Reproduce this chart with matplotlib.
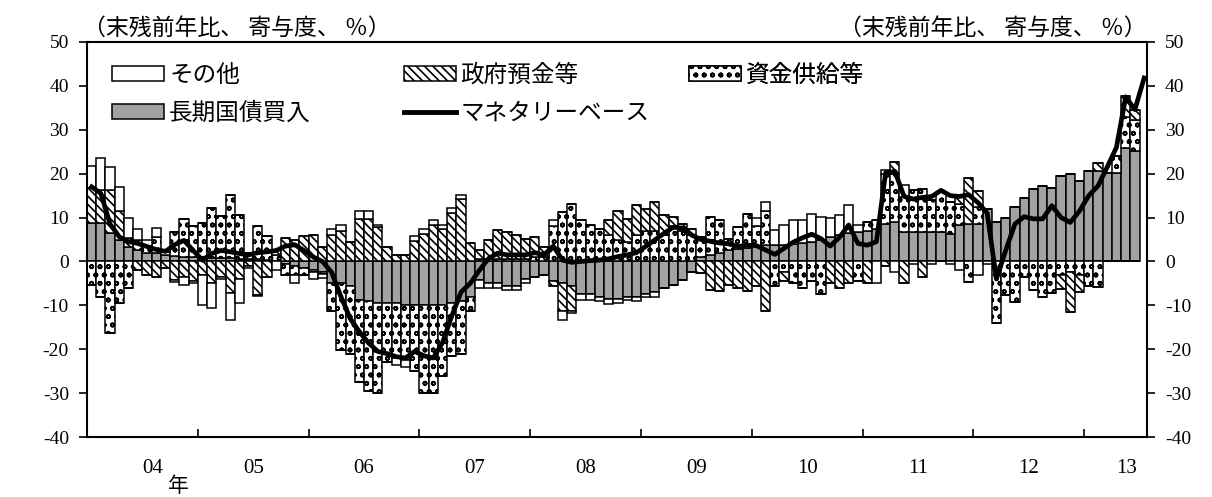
import numpy as np
import matplotlib
matplotlib.use("Agg")
import matplotlib.pyplot as plt
from matplotlib.patches import Patch
from matplotlib.lines import Line2D
import matplotlib.transforms as mtransforms

plt.rcParams['font.family'] = ['Noto Sans CJK JP', 'DejaVu Sans']
plt.rcParams['hatch.color'] = 'black'
plt.rcParams['hatch.linewidth'] = 1.2
plt.rcParams['axes.unicode_minus'] = False

# monthly contributions, 2004/01 - 2013/06 (% pts, y/y of end-month balance)
jgb = [8.7, 8.7, 6.5, 4.9, 3.4, 2.5, 2.0, 2.0, 1.5, 1.2, 1.0, 1.0,
       1.0, 0.8, 0.8, 0.8, 0.6, 0.5, 0.5, 0.3, 0.0, -0.5, -1.0, -1.5,
       -2.0, -2.5, -5.0, -5.0, -5.7, -8.8, -9.0, -9.5, -9.5, -9.5, -10.0, -10.0,
       -10.0, -10.0, -10.0, -9.5, -9.0, -8.0, -4.2, -5.0, -5.0, -5.5, -5.5, -4.0,
       -3.5, -3.0, -4.5, -5.0, -5.5, -7.5, -7.5, -8.0, -8.5, -8.5, -8.0, -8.0,
       -7.5, -7.0, -6.0, -5.3, -4.2, -2.3, 1.0, 1.5, 2.0, 2.5, 2.8, 3.0,
       3.5, 3.7, 3.7, 3.7, 4.0, 4.2, 4.5, 5.0, 5.5, 6.0, 6.5, 6.8,
       7.0, 7.5, 8.5, 8.9, 6.6, 6.6, 6.6, 6.6, 6.6, 6.2, 8.2, 8.5,
       8.5, 11.9, 8.9, 10.0, 12.3, 14.4, 16.5, 17.2, 16.8, 19.5, 19.9, 18.4,
       20.6, 20.6, 20.2, 20.2, 25.9, 25.2]
supply = [-5.3, -8.0, -16.3, -9.5, -6.0, 2.5, 1.5, 3.5, 0.7, 5.4, 8.6, 7.1,
          7.7, 11.3, 9.5, 14.4, 10.0, 1.5, 7.5, 5.4, 1.5, -2.5, -2.0, -1.5,
          -0.5, -0.3, -6.4, -15.2, -15.3, -18.6, -20.6, -20.5, -13.3, -12.5, -12.5, -15.0,
          -20.0, -20.0, -16.0, -12.1, -12.0, -3.4, 0.5, 0.5, 0.5, 0.5, 0.5, 0.5,
          1.0, 1.0, 8.0, 11.3, 13.2, 9.4, 8.3, 7.5, 6.0, 5.0, 4.5, 6.0,
          7.0, 7.0, 6.0, 8.0, 7.0, 6.0, 4.6, 8.6, 7.4, 2.7, 5.1, 7.9,
          4.5, 7.9, -5.5, -2.5, -5.0, -6.0, -4.5, -7.5, 0.0, 0.0, 0.0, -4.5,
          2.0, 1.9, 11.5, 11.1, 8.0, 9.7, 10.0, 7.4, 9.3, 7.4, 5.0, -4.7,
          4.0, 0.0, -14.1, -7.7, -9.2, -3.5, -6.6, -8.1, -7.3, -3.0, -2.5, -3.0,
          -5.5, -5.8, 0.0, 3.8, 7.1, 7.1]
govt = [8.0, 7.6, 9.8, 6.5, 2.0, -2.0, -3.0, -3.5, -1.5, -4.2, -3.5, -4.5,
        -3.0, -5.0, -3.5, -7.2, -4.0, -1.0, -7.6, -3.5, 1.0, 5.3, 5.0, 5.7,
        6.0, 3.4, 6.0, 7.0, 4.5, 9.6, 9.6, 7.8, 3.4, 1.5, 1.5, 4.7,
        6.3, 8.4, 7.3, 11.1, 14.2, 4.1, 2.1, 4.4, 6.7, 6.3, 5.5, 4.7,
        4.6, 2.3, -1.2, -6.3, -5.8, 0.0, 0.0, 0.0, 3.4, 6.6, 5.2, 6.8,
        5.0, 6.5, 4.5, 2.1, 1.6, 1.5, -2.7, -6.5, -6.8, -5.3, -6.0, -6.8,
        -5.7, -11.3, 0.0, -2.0, 0.0, 0.0, 0.0, 0.0, -5.0, -6.0, -5.0, 0.0,
        -5.0, 0.0, -1.0, 2.7, -5.0, 0.0, -3.5, 0.0, 0.0, 0.0, 1.8, 10.4,
        3.5, 0.0, 0.0, 0.0, 0.0, 0.0, 0.0, 0.0, 0.0, -3.2, -9.0, -4.0,
        0.0, 1.9, 0.0, 0.0, 4.6, 2.3]
other = [5.1, 7.2, 5.3, 5.6, 4.5, 2.4, 1.5, 2.1, 0.5, -0.5, -1.8, -0.5,
         -6.9, -5.6, -0.5, -6.1, -5.5, -0.5, -0.3, 0.0, -2.0, 0.0, -2.0, 0.0,
         -1.5, -1.0, 1.3, 1.3, 0.0, 2.0, 2.0, 0.5, 0.0, -1.5, -1.5, 1.0,
         1.0, 1.0, 1.0, 1.0, 1.0, 0.0, -1.9, -1.0, -1.0, -1.1, -1.0, -1.0,
         0.0, 0.0, 1.4, -2.0, -0.5, -1.2, -1.2, -1.0, -1.3, -0.9, -0.7, -1.0,
         -0.5, -1.0, 0.0, 0.0, 0.0, 0.0, 0.0, 0.0, 0.0, 0.0, 0.0, 0.0,
         1.8, 2.0, 3.4, 4.6, 5.4, 5.2, 6.4, 5.2, 4.3, 4.6, 6.3, 1.5,
         0.0, -5.0, 0.9, -2.4, 2.8, -0.5, 0.0, -0.5, 0.0, -0.5, -2.0, 0.0,
         -3.0, -0.5, 0.0, 0.0, 0.0, 0.0, 0.0, 0.0, 0.0, 0.0, 0.0, 0.0,
         0.0, 0.0, 0.0, 0.0, 0.0, 0.0]
# monetary base, 2004/01 - 2013/07
base = [17.0, 15.5, 8.5, 5.6, 4.5, 4.1, 3.4, 2.7, 2.3, 3.8, 4.8, 2.5,
        0.3, 1.8, 2.5, 2.2, 1.8, 1.5, 2.0, 2.2, 2.5, 3.5, 3.8, 2.5,
        1.0, 0.0, -2.5, -8.0, -13.0, -16.0, -18.6, -20.5, -21.0, -21.7, -22.0, -20.5,
        -21.5, -22.0, -18.5, -12.5, -7.0, -5.0, -2.0, 0.7, 1.9, 1.5, 1.5, 1.5,
        2.0, 1.5, 3.5, 0.3, -0.2, 0.0, 0.2, 0.3, 0.6, 1.1, 1.5, 2.0,
        3.4, 4.9, 6.4, 7.8, 7.6, 6.0, 5.0, 4.6, 4.2, 4.0, 3.4, 3.7,
        3.6, 2.6, 1.6, 3.0, 4.4, 5.4, 6.2, 5.2, 3.5, 5.5, 8.3, 4.1,
        3.7, 4.5, 20.2, 20.5, 14.8, 14.2, 14.6, 14.8, 16.2, 15.0, 14.8, 15.2,
        13.4, 11.0, -4.0, 2.5, 8.5, 10.2, 9.7, 9.7, 12.7, 10.0, 8.9, 11.5,
        15.0, 17.2, 21.5, 26.0, 37.5, 34.6, 41.8]

year_labels = ['04', '05', '06', '07', '08', '09', '10', '11', '12', '13']
names = ['長期国債買入', '資金供給等', '政府預金等', 'その他', 'マネタリーベース']
unit = '（末残前年比、 寄与度、 ％）'

fig = plt.figure(figsize=(12.12, 4.97), dpi=100)
ax = fig.add_axes([0.0718, 0.1207, 0.8745, 0.7948])

x = np.arange(len(jgb))
styles = [('#a2a2a2', None), ('white', 'oo'), ('white', '\\\\\\\\'), ('white', None)]
pos = np.zeros(len(x))
neg = np.zeros(len(x))
for vals, (fc, hatch) in zip([jgb, supply, govt, other], styles):
    v = np.array(vals)
    p = np.where(v > 0, v, 0.0)
    n = np.where(v < 0, v, 0.0)
    ax.bar(x, p, 1.0, bottom=pos, color=fc, edgecolor='black', hatch=hatch, lw=1.1)
    ax.bar(x, n, 1.0, bottom=neg, color=fc, edgecolor='black', hatch=hatch, lw=1.1)
    pos += p
    neg += n

ax.plot(np.arange(len(base)), base, color='black', lw=3.4, solid_joinstyle='round', zorder=5)

ax.set_xlim(-0.5, 114.3)
ax.set_ylim(-40, 50)
ax.set_yticks(np.arange(-40, 51, 10))
ax.tick_params(axis='y', direction='out', length=6, width=1.2, left=True, right=True,
               labelleft=True, labelright=True, labelsize=14, pad=7)
for lab in ax.get_yticklabels():
    lab.set_fontfamily('Liberation Serif')

ax.set_xticks(np.arange(11.5, 108, 12))
ax.set_xticklabels([])
ax.tick_params(axis='x', which='major', direction='in', length=6, width=1.2)
lab_pos = [6.6] + [5.5 + 12 * k for k in range(1, 9)] + [112.1]
ax.set_xticks(lab_pos, minor=True)
ax.set_xticklabels(year_labels, minor=True, fontsize=15, fontfamily='Liberation Serif')
ax.tick_params(axis='x', which='minor', length=0, pad=16)
trans = mtransforms.blended_transform_factory(ax.transData, ax.transAxes)
ax.text(9.4, -0.095, '年', transform=trans, fontsize=15, ha='center', va='top')

for s in ax.spines.values():
    s.set_linewidth(1.5)

ax.text(-0.004, 1.006, unit, transform=ax.transAxes, fontsize=16.5, ha='left', va='bottom')
ax.text(1.0, 1.006, unit, transform=ax.transAxes, fontsize=16.5, ha='right', va='bottom')

def box(fc, hatch):
    return Patch(facecolor=fc, edgecolor='black', hatch=hatch, lw=1.1)

line_h = Line2D([], [], color='black', lw=3.5)
legend_cols = [
    ([box('white', None), box('#a2a2a2', None)], [names[3], names[0]], 0.024),
    ([box('white', '\\\\\\\\'), line_h], [names[2], names[4]], 0.299),
    ([box('white', 'oo')], [names[1]], 0.568),
]
for handles, labels, x0 in legend_cols:
    leg = ax.legend(handles, labels, loc='upper left', bbox_to_anchor=(x0, 0.945),
                    frameon=False, fontsize=17, handlelength=2.2, handleheight=0.6,
                    handletextpad=0.2, labelspacing=0.65, borderpad=0, borderaxespad=0)
    ax.add_artist(leg)

fig.savefig('out.png', dpi=100, facecolor='white')
